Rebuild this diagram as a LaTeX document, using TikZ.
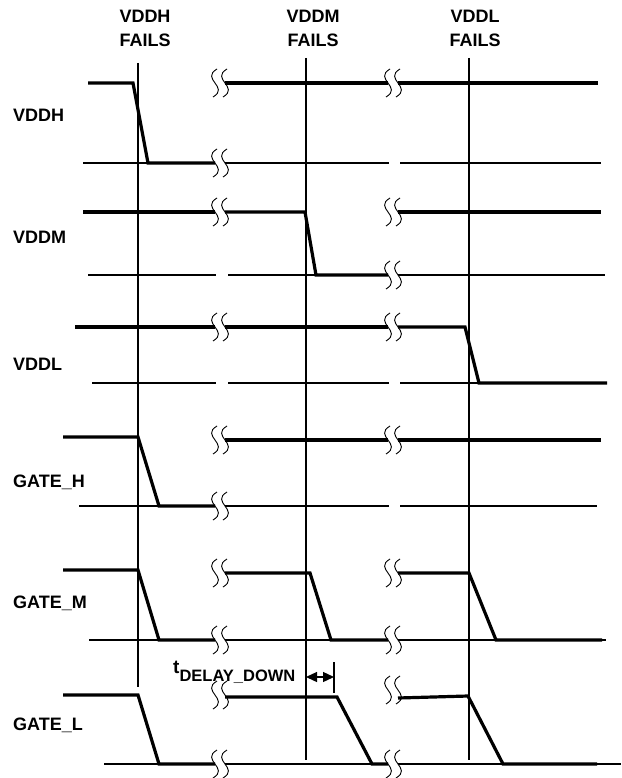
\documentclass[tikz,border=0pt]{standalone}
\usepackage{fontspec}
\setmainfont{Liberation Sans}
\usetikzlibrary{arrows.meta}
\tikzset{
  sig/.style={line width=3.2pt, black},
  baseln/.style={line width=1.3pt, black},
  gridln/.style={line width=1.3pt, black},
  brk/.style={line width=0.9pt, black},
  lbl/.style={inner sep=0pt, anchor=base west, font=\bfseries\fontsize{18}{20}\selectfont},
  ttl/.style={inner sep=0pt, anchor=base, font=\bfseries\fontsize{18}{20}\selectfont},
}
\newcommand\onecurve[2]{\draw[brk] ({#1+2},{#2-14}) .. controls ({#1-15},{#2-4}) and ({#1+15},{#2+4}) .. ({#1-2},{#2+14});}
\newcommand\brkmark[2]{\onecurve{#1-5}{#2}\onecurve{#1+5}{#2}}
\begin{document}
\begin{tikzpicture}[x=1pt,y=-1pt]
\useasboundingbox (0,0) rectangle (621,778);
% titles
\node[ttl] (t1a) at (145,23) {VDDH};
\node[ttl] (t1b) at (145,47) {FAILS};
\node[ttl] (t2a) at (313,23) {VDDM};
\node[ttl] (t2b) at (313,47) {FAILS};
\node[ttl] (t3a) at (475,23) {VDDL};
\node[ttl] (t3b) at (475,47) {FAILS};
% labels
\node[lbl] (l1) at (13,122) {VDDH};
\node[lbl] (l2) at (13,243) {VDDM};
\node[lbl] (l3) at (13,370) {VDDL};
\node[lbl] (l4) at (13,487) {GATE\_H};
\node[lbl] (l5) at (13,608) {GATE\_M};
\node[lbl] (l6) at (13,730) {GATE\_L};
% vertical event lines
\draw[gridln] (138,63) -- (138,687);
\draw[gridln] (306,58) -- (306,760);
\draw[gridln] (469,58) -- (469,760);
% VDDH
\draw[baseln] (83,163) -- (215,163);
\draw[baseln] (225,163) -- (389,163);
\draw[baseln] (400,163) -- (601,163);
\draw[sig] (88,83) -- (133,83) -- (148,163) -- (215,163);
\draw[sig] (225,83) -- (388,83);
\draw[sig] (398,83) -- (598,83);
\brkmark{220}{83}\brkmark{393}{83}\brkmark{220}{163}
% VDDM
\draw[baseln] (88,275) -- (216,275);
\draw[baseln] (228,275) -- (388,275);
\draw[baseln] (398,275) -- (605,275);
\draw[sig] (83,212) -- (215,212);
\draw[sig] (225,212) -- (305,212) -- (316,275) -- (388,275);
\draw[sig] (398,212) -- (601,212);
\brkmark{220}{212}\brkmark{393}{275}\brkmark{393}{212}
% VDDL
\draw[baseln] (92,383) -- (216,383);
\draw[baseln] (228,383) -- (389,383);
\draw[baseln] (400,383) -- (607,383);
\draw[sig] (75,327) -- (215,327);
\draw[sig] (225,327) -- (388,327);
\draw[sig] (398,327) -- (465,327) -- (479,383) -- (607,383);
\brkmark{220}{327}\brkmark{393}{327}
% GATE_H
\draw[baseln] (79,506) -- (215,506);
\draw[baseln] (225,506) -- (389,506);
\draw[baseln] (400,506) -- (597,506);
\draw[sig] (63,437) -- (138,437) -- (159,506) -- (215,506);
\draw[sig] (225,440) -- (388,440);
\draw[sig] (398,440) -- (601,440);
\brkmark{220}{506}\brkmark{220}{440}\brkmark{393}{440}
% GATE_M
\draw[baseln] (89,640) -- (215,640);
\draw[baseln] (225,640) -- (388,640);
\draw[baseln] (398,640) -- (606,640);
\draw[sig] (63,570) -- (138,570) -- (159,640) -- (215,640);
\draw[sig] (225,573) -- (310,573) -- (331,640) -- (388,640);
\draw[sig] (398,573) -- (469,573) -- (496,640) -- (602,640);
\brkmark{220}{640}\brkmark{220}{573}\brkmark{393}{640}\brkmark{393}{573}
% GATE_L
\draw[baseln] (104,764) -- (215,764);
\draw[baseln] (225,764) -- (388,764);
\draw[baseln] (398,764) -- (621,764);
\draw[sig] (63,695) -- (138,695) -- (159,764) -- (215,764);
\draw[sig] (225,697) -- (337,697) -- (372,764) -- (388,764);
\draw[sig] (398,698) -- (468,696) -- (503,764) -- (597,764);
\brkmark{220}{764}\brkmark{220}{695}\brkmark{393}{764}\brkmark{393}{690}
% t_DELAY_DOWN
\node[inner sep=0pt, anchor=base west, font=\bfseries] (td) at (173,673)
  {\fontsize{19}{20}\selectfont t\raisebox{-8pt}{\fontsize{16.5}{17}\selectfont DELAY\_DOWN}};
\coordinate (ta) at (306,677);
\coordinate (tb) at (334,677);
\coordinate (tk1) at (334,662);
\coordinate (tk2) at (334,693);
\draw[gridln] (tk1) -- (tk2);
\draw[line width=1.3pt, {Triangle[length=11pt,width=10pt]}-{Triangle[length=11pt,width=10pt]}] (ta) -- (tb);
\end{tikzpicture}
\end{document}
